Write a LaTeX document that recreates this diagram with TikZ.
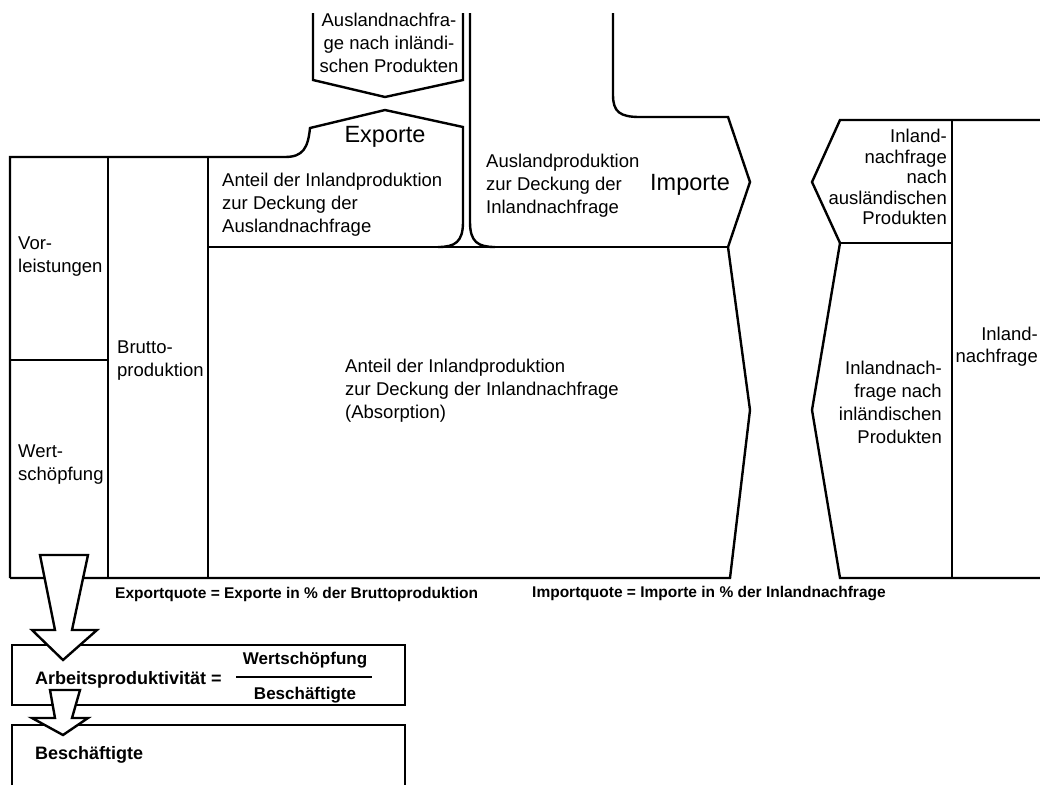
\documentclass[tikz,border=0pt]{standalone}
\usepackage{fontspec}
\setmainfont{Liberation Sans}
\begin{document}
\begin{tikzpicture}[x=1pt,y=-1pt]
\tikzset{
 lbl/.style={font=\fontsize{18.5}{23}\selectfont, inner sep=0pt, align=left},
 big/.style={font=\fontsize{23.5}{28}\selectfont, inner sep=0pt},
 quote/.style={font=\bfseries\fontsize{15.5}{19}\selectfont, inner sep=0pt, anchor=west},
 formula/.style={font=\bfseries\fontsize{18}{21}\selectfont, inner sep=0pt},
 frac/.style={font=\bfseries\fontsize{17}{21}\selectfont, inner sep=0pt},
 outline/.style={line width=2.4pt, line join=miter},
 hollow/.style={outline, fill=white},
}
\useasboundingbox (0,0) rectangle (1040,785);
% left block and main area
\draw[outline] (10,578) -- (10,157) -- (285,157) .. controls (303,157) and (308,148) .. (310,128) -- (385,110) -- (463,127) -- (463,222) .. controls (463,242) and (455,247) .. (438,247);
\draw[outline] (208,247) -- (728,247);
\draw[outline] (470,13) -- (470,222) .. controls (470,242) and (478,247) .. (495,247);
\draw[outline] (613,13) -- (613,95) .. controls (613,112) and (620,117) .. (640,117) -- (728,117) -- (750,182) -- (728,247) -- (750,410) -- (730,578) -- (10,578);
\draw[outline] (108,157) -- (108,578);
\draw[outline] (208,157) -- (208,578);
\draw[outline] (10,360) -- (108,360);
% Auslandnachfrage arrow
\draw[outline] (313,13) -- (313,80) -- (385,97) -- (463,80) -- (463,13);
% right part
\draw[outline] (1040,120) -- (840,120) -- (812,182) -- (840,243) -- (812,410) -- (840,578) -- (1040,578);
\draw[outline] (840,243) -- (952,243);
\draw[outline] (952,120) -- (952,578);
% lower boxes
\draw[outline] (12,645) rectangle (405,705);
\draw[outline] (12,785) -- (12,725) -- (405,725) -- (405,785);
% hollow arrows
\draw[hollow] (40,555) -- (55,630) -- (32,630) -- (63,660) -- (97,630) -- (72,630) -- (88,555) -- cycle;
\draw[hollow] (50,690) -- (55,718) -- (32,718) -- (63,735) -- (88,718) -- (72,718) -- (80,690) -- cycle;
% texts
\node[lbl, anchor=west] (vor) at (18,257) {Vor-\\leistungen};
\node[lbl, anchor=west] (wert) at (18,465) {Wert-\\schöpfung};
\node[lbl, anchor=west] (brutto) at (117,361) {Brutto-\\produktion};
\node[lbl, anchor=west] (aexp) at (222,205) {Anteil der Inlandproduktion\\zur Deckung der\\Auslandnachfrage};
\node[lbl, anchor=west] (aimp) at (486,186) {Auslandproduktion\\zur Deckung der\\Inlandnachfrage};
\node[lbl, anchor=west] (absn) at (345,391) {Anteil der Inlandproduktion\\zur Deckung der Inlandnachfrage\\(Absorption)};
\node[lbl, align=center] (ausl) at (389,43) {Auslandnachfra-\\ge nach inländi-\\schen Produkten};
\node[big] (expo) at (385,137) {Exporte};
\node[big] (impo) at (690,185) {Importe};
\node[lbl, font=\fontsize{18.5}{20.5}\selectfont, align=right, anchor=east] (inaus) at (947,177) {Inland-\\nachfrage\\nach\\ausländischen\\Produkten};
\node[lbl, align=right, anchor=east] (ininl) at (942,402) {Inlandnach-\\frage nach\\inländischen\\Produkten};
\node[lbl, font=\fontsize{18.5}{22}\selectfont, align=right, anchor=east] (inl) at (1038,347) {Inland-\\nachfrage};
\node[quote] (eq) at (115,594) {Exportquote = Exporte in \% der Bruttoproduktion};
\node[quote] (iq) at (532,594) {Importquote = Importe in \% der Inlandnachfrage};
\node[formula, anchor=west] (ap) at (35,680) {Arbeitsproduktivität =};
\node[frac] (num) at (305,660) {Wertschöpfung};
\node[frac] (den) at (305,695) {Beschäftigte};
\draw[line width=1.6pt] (236,677) -- (372,677);
\node[formula, anchor=west] (besch) at (35,755) {Beschäftigte};
\end{tikzpicture}
\end{document}
